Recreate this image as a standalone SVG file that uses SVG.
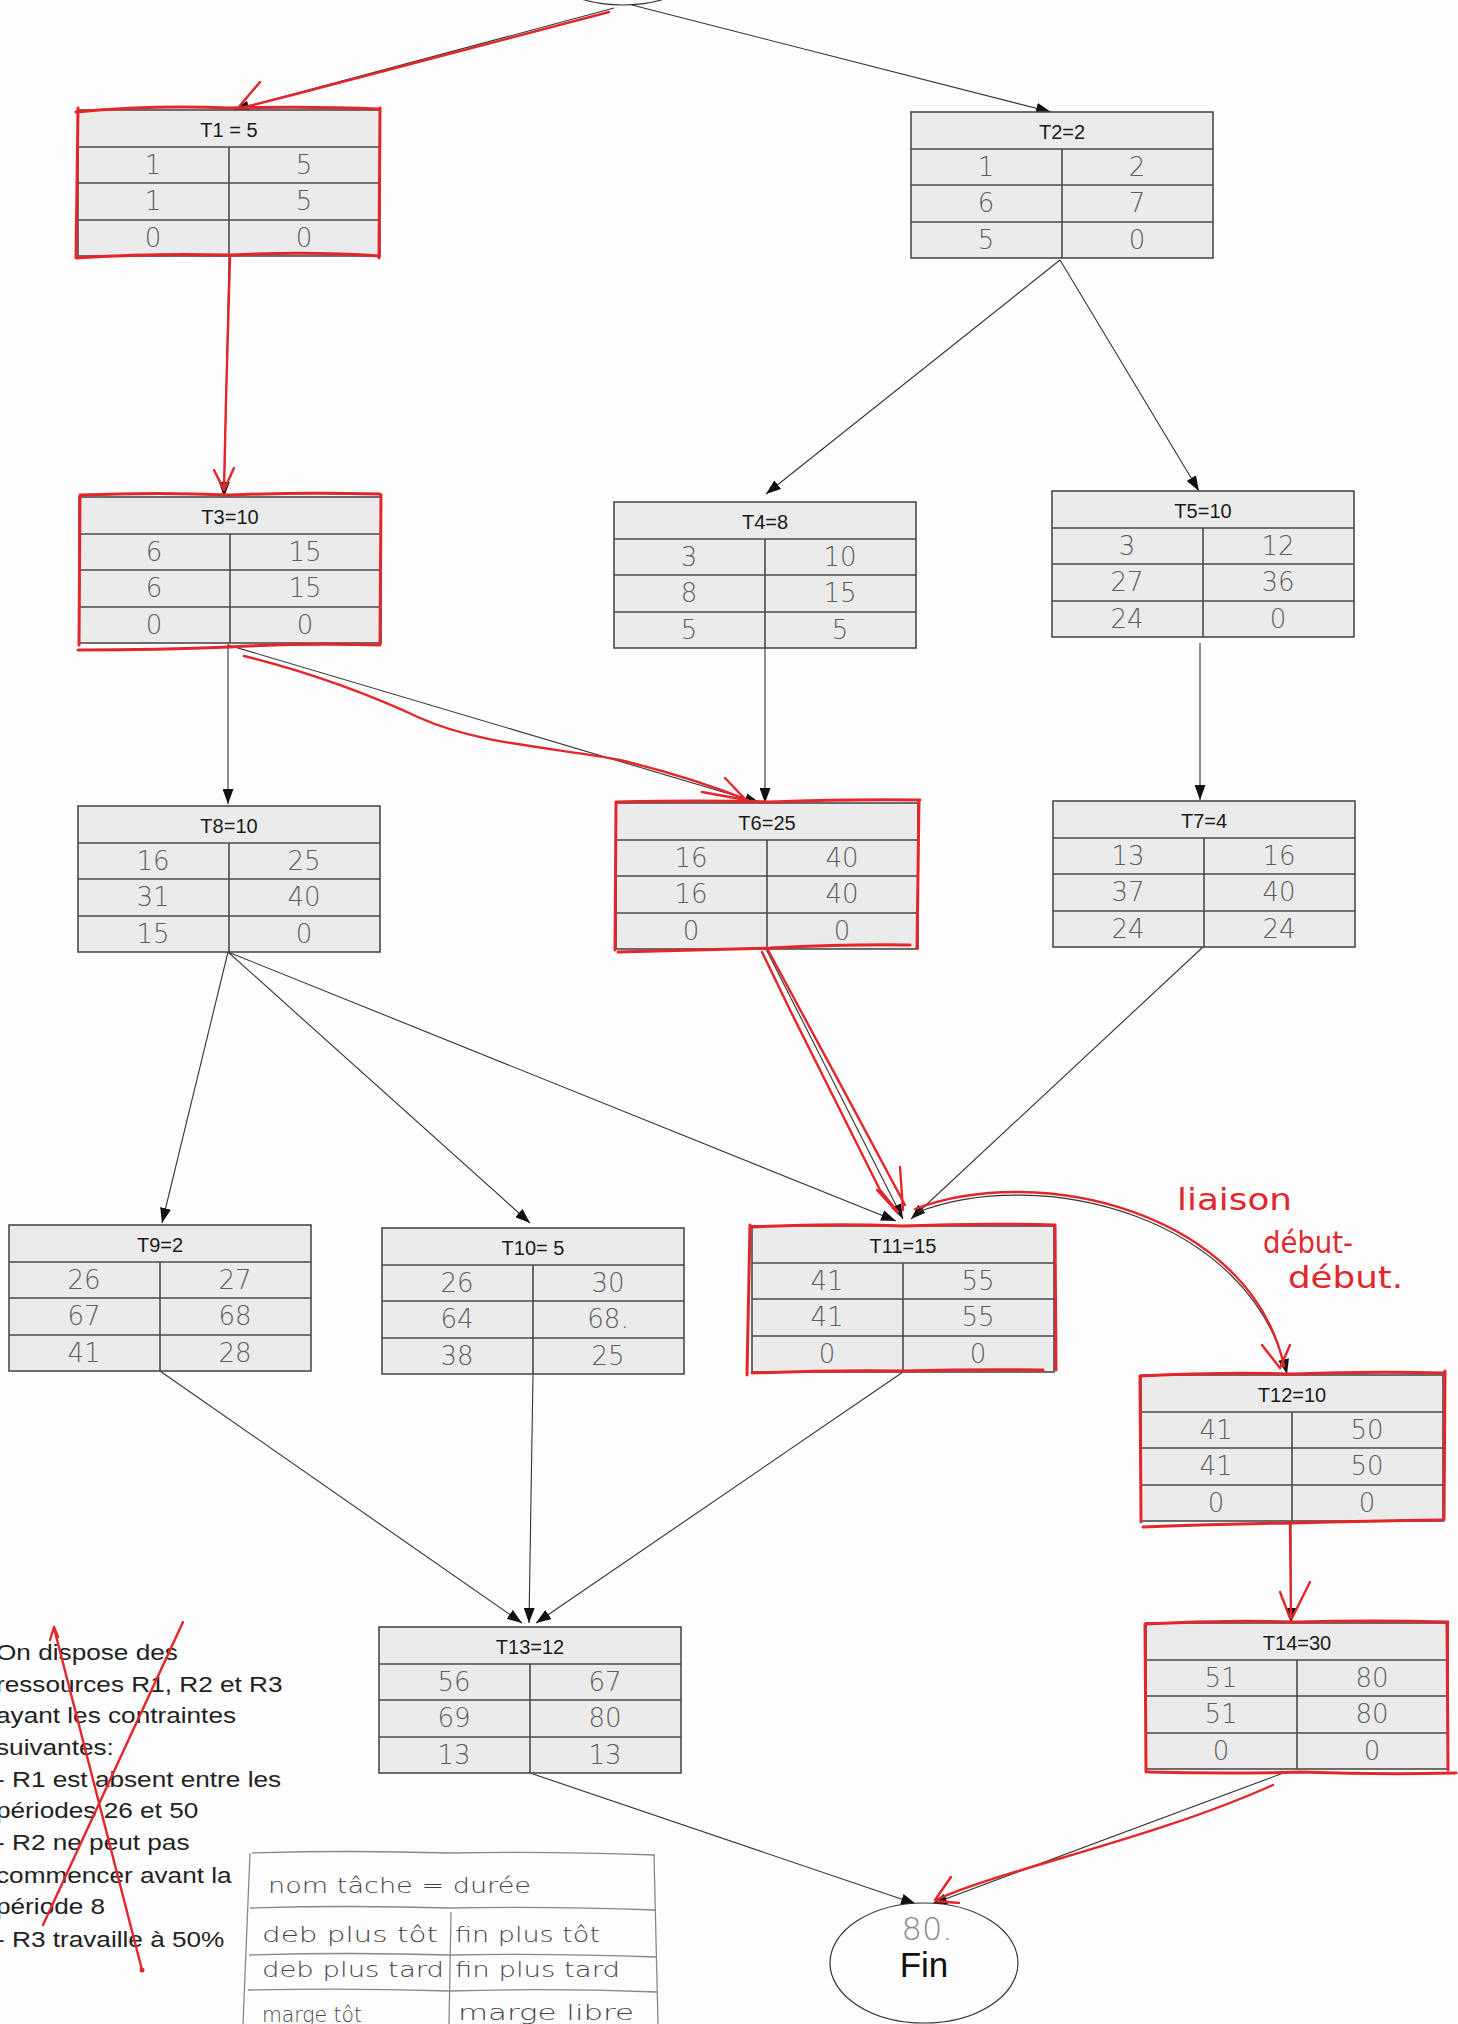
<svg xmlns="http://www.w3.org/2000/svg" xmlns:xlink="http://www.w3.org/1999/xlink" width="1458" height="2024" viewBox="0 0 1458 2024">
<style>
.box{fill:#ebebeb;stroke:#4a4a4a;stroke-width:1.6}
.grid{fill:none;stroke:#4a4a4a;stroke-width:1.6}
.hdr{font-family:"Liberation Sans",Arial,sans-serif;font-size:20px;fill:#1a1a1a;text-anchor:middle}
.hw{font-family:"DejaVu Sans",sans-serif;font-size:26px;font-weight:200;fill:#5e5e5e;text-anchor:middle}
.edge{stroke:#333;stroke-width:1.1;fill:none}
.red{stroke:#e3262b;stroke-width:2.4;fill:none;stroke-linecap:round;stroke-linejoin:round}
.crit{stroke:#e3262b;stroke-width:3;fill:none;stroke-linecap:round;stroke-linejoin:round}
.note{font-family:"Liberation Sans",Arial,sans-serif;font-size:22px;fill:#222}
.leg{font-family:"DejaVu Sans",sans-serif;font-size:22px;font-weight:200;fill:#444}
.legl{stroke:#888;stroke-width:1.3;fill:none}
.redtxt{font-family:"DejaVu Sans",sans-serif;font-size:30px;fill:#e3262b}
</style>
<defs>
<marker id="arr" markerUnits="userSpaceOnUse" markerWidth="15" markerHeight="11" refX="15" refY="5.5" orient="auto">
<path d="M0,0 L15,5.5 L0,11 z" fill="#111"/>
</marker>
<g id="frame">
<rect x="0" y="0" width="302" height="146" class="box"/>
<path d="M0,37H302M0,73H302M0,110H302M151,37V146" class="grid"/>
</g>
</defs>
<rect width="1458" height="2024" fill="#fdfdfd"/>

<g id="connectors">
<path class="edge" d="M614,8 L234,110" marker-end="url(#arr)"/>
<path class="edge" d="M632,5 L1051,112" marker-end="url(#arr)"/>
<path class="edge" d="M229,257 L224,497" marker-end="url(#arr)"/>
<path class="edge" d="M1060,260 L766,494" marker-end="url(#arr)"/>
<path class="edge" d="M1060,260 L1199,491" marker-end="url(#arr)"/>
<path class="edge" d="M228,644 L228,804" marker-end="url(#arr)"/>
<path class="edge" d="M228,645 L760,803" marker-end="url(#arr)"/>
<path class="edge" d="M765,648 L765,803" marker-end="url(#arr)"/>
<path class="edge" d="M1200,643 L1200,800" marker-end="url(#arr)"/>
<path class="edge" d="M228,952 L162,1223" marker-end="url(#arr)"/>
<path class="edge" d="M228,952 L530,1223" marker-end="url(#arr)"/>
<path class="edge" d="M228,952 L896,1221" marker-end="url(#arr)"/>
<path class="edge" d="M766,949 L903,1219" marker-end="url(#arr)"/>
<path class="edge" d="M1203,947 L911,1219" marker-end="url(#arr)"/>
<path class="edge" d="M918,1212 C1040,1165 1250,1215 1287,1374" marker-end="url(#arr)"/>
<path class="edge" d="M1291,1521 L1291,1623" marker-end="url(#arr)"/>
<path class="edge" d="M160,1371 L522,1623" marker-end="url(#arr)"/>
<path class="edge" d="M533,1374 L529,1623" marker-end="url(#arr)"/>
<path class="edge" d="M903,1372 L536,1623" marker-end="url(#arr)"/>
<path class="edge" d="M530,1773 L916,1904" marker-end="url(#arr)"/>
<path class="edge" d="M1286,1772 L932,1904" marker-end="url(#arr)"/>
</g>

<g id="start"><ellipse cx="623" cy="-55" rx="94" ry="60" fill="#fdfdfd" stroke="#333" stroke-width="1.2"/></g>

<g id="T1"><use xlink:href="#frame" x="78" y="110"/><text class="hdr" x="229" y="137">T1 = 5</text>
<text class="hw" x="153" y="174">1</text><text class="hw" x="304" y="174">5</text>
<text class="hw" x="153" y="210">1</text><text class="hw" x="304" y="210">5</text>
<text class="hw" x="153" y="247" font-size="20">0</text><text class="hw" x="304" y="247" font-size="20">0</text></g>

<g id="T2"><use xlink:href="#frame" x="911" y="112"/><text class="hdr" x="1062" y="139">T2=2</text>
<text class="hw" x="986" y="176">1</text><text class="hw" x="1137" y="176">2</text>
<text class="hw" x="986" y="212">6</text><text class="hw" x="1137" y="212">7</text>
<text class="hw" x="986" y="249">5</text><text class="hw" x="1137" y="249">0</text></g>

<g id="T3"><use xlink:href="#frame" x="79" y="497"/><text class="hdr" x="230" y="524">T3=10</text>
<text class="hw" x="154" y="561">6</text><text class="hw" x="305" y="561">15</text>
<text class="hw" x="154" y="597">6</text><text class="hw" x="305" y="597">15</text>
<text class="hw" x="154" y="634">0</text><text class="hw" x="305" y="634">0</text></g>

<g id="T4"><use xlink:href="#frame" x="614" y="502"/><text class="hdr" x="765" y="529">T4=8</text>
<text class="hw" x="689" y="566">3</text><text class="hw" x="840" y="566">10</text>
<text class="hw" x="689" y="602">8</text><text class="hw" x="840" y="602">15</text>
<text class="hw" x="689" y="639">5</text><text class="hw" x="840" y="639">5</text></g>

<g id="T5"><use xlink:href="#frame" x="1052" y="491"/><text class="hdr" x="1203" y="518">T5=10</text>
<text class="hw" x="1127" y="555">3</text><text class="hw" x="1278" y="555">12</text>
<text class="hw" x="1127" y="591">27</text><text class="hw" x="1278" y="591">36</text>
<text class="hw" x="1127" y="628">24</text><text class="hw" x="1278" y="628">0</text></g>

<g id="T6"><use xlink:href="#frame" x="616" y="803"/><text class="hdr" x="767" y="830">T6=25</text>
<text class="hw" x="691" y="867">16</text><text class="hw" x="842" y="867">40</text>
<text class="hw" x="691" y="903">16</text><text class="hw" x="842" y="903">40</text>
<text class="hw" x="691" y="940">0</text><text class="hw" x="842" y="940">0</text></g>

<g id="T7"><use xlink:href="#frame" x="1053" y="801"/><text class="hdr" x="1204" y="828">T7=4</text>
<text class="hw" x="1128" y="865">13</text><text class="hw" x="1279" y="865">16</text>
<text class="hw" x="1128" y="901">37</text><text class="hw" x="1279" y="901">40</text>
<text class="hw" x="1128" y="938">24</text><text class="hw" x="1279" y="938">24</text></g>

<g id="T8"><use xlink:href="#frame" x="78" y="806"/><text class="hdr" x="229" y="833">T8=10</text>
<text class="hw" x="153" y="870">16</text><text class="hw" x="304" y="870">25</text>
<text class="hw" x="153" y="906">31</text><text class="hw" x="304" y="906">40</text>
<text class="hw" x="153" y="943">15</text><text class="hw" x="304" y="943">0</text></g>

<g id="T9"><use xlink:href="#frame" x="9" y="1225"/><text class="hdr" x="160" y="1252">T9=2</text>
<text class="hw" x="84" y="1289">26</text><text class="hw" x="235" y="1289">27</text>
<text class="hw" x="84" y="1325">67</text><text class="hw" x="235" y="1325">68</text>
<text class="hw" x="84" y="1362">41</text><text class="hw" x="235" y="1362">28</text></g>

<g id="T10"><use xlink:href="#frame" x="382" y="1228"/><text class="hdr" x="533" y="1255">T10= 5</text>
<text class="hw" x="457" y="1292">26</text><text class="hw" x="608" y="1292">30</text>
<text class="hw" x="457" y="1328">64</text><text class="hw" x="608" y="1328">68.</text>
<text class="hw" x="457" y="1365">38</text><text class="hw" x="608" y="1365">25</text></g>

<g id="T11"><use xlink:href="#frame" x="752" y="1226"/><text class="hdr" x="903" y="1253">T11=15</text>
<text class="hw" x="827" y="1290">41</text><text class="hw" x="978" y="1290">55</text>
<text class="hw" x="827" y="1326">41</text><text class="hw" x="978" y="1326">55</text>
<text class="hw" x="827" y="1363">0</text><text class="hw" x="978" y="1363">0</text></g>

<g id="T12"><use xlink:href="#frame" x="1141" y="1375"/><text class="hdr" x="1292" y="1402">T12=10</text>
<text class="hw" x="1216" y="1439">41</text><text class="hw" x="1367" y="1439">50</text>
<text class="hw" x="1216" y="1475">41</text><text class="hw" x="1367" y="1475">50</text>
<text class="hw" x="1216" y="1512">0</text><text class="hw" x="1367" y="1512" font-size="18">0</text></g>

<g id="T13"><use xlink:href="#frame" x="379" y="1627"/><text class="hdr" x="530" y="1654">T13=12</text>
<text class="hw" x="454" y="1691">56</text><text class="hw" x="605" y="1691">67</text>
<text class="hw" x="454" y="1727">69</text><text class="hw" x="605" y="1727">80</text>
<text class="hw" x="454" y="1764">13</text><text class="hw" x="605" y="1764">13</text></g>

<g id="T14"><use xlink:href="#frame" x="1146" y="1623"/><text class="hdr" x="1297" y="1650">T14=30</text>
<text class="hw" x="1221" y="1687">51</text><text class="hw" x="1372" y="1687">80</text>
<text class="hw" x="1221" y="1723">51</text><text class="hw" x="1372" y="1723">80</text>
<text class="hw" x="1221" y="1760">0</text><text class="hw" x="1372" y="1760" font-size="20">0</text></g>

<g id="fin"><ellipse cx="924" cy="1963" rx="94" ry="60" fill="#fdfdfd" stroke="#333" stroke-width="1.2"/>
<text x="927" y="1940" font-family="DejaVu Sans, sans-serif" font-size="32" font-weight="200" fill="#8a8a8a" text-anchor="middle">80.</text>
<text x="924" y="1977" font-family="Liberation Sans, Arial, sans-serif" font-size="35" fill="#111" text-anchor="middle">Fin</text></g>

<g id="critical-path">
<path class="crit" d="M76,112 Q150,105 230,108 Q310,106 379,109 M78,108 L76,258 M380,108 L379,258 M76,258 Q150,253 230,255 Q310,251 379,256"/>
<path class="crit" d="M80,495 Q160,492 230,495 Q300,492 380,494 M80,495 L79,645 M381,495 L380,645 M78,650 Q160,650 230,647 Q300,643 380,645"/>
<path class="crit" d="M616,802 Q700,800 770,802 Q850,799 920,800 M616,802 L615,950 M919,800 L917,948 M618,952 Q700,950 770,948 Q850,944 910,945"/>
<path class="crit" d="M752,1227 Q830,1223 903,1226 Q980,1223 1055,1225 M750,1225 L747,1375 M1055,1225 L1056,1370 M752,1373 Q830,1370 903,1371 Q980,1369 1043,1370"/>
<path class="crit" d="M1141,1376 Q1220,1372 1292,1374 Q1370,1371 1444,1373 M1140,1376 L1141,1522 M1445,1371 L1444,1520 M1143,1527 Q1220,1524 1292,1523 Q1370,1521 1441,1520"/>
<path class="crit" d="M1145,1624 Q1220,1620 1297,1622 Q1370,1620 1448,1622 M1145,1624 L1146,1772 M1447,1622 L1448,1770 M1148,1772 Q1230,1774 1300,1772 Q1380,1775 1456,1773"/>
<path class="red" d="M609,12 L300,93 L245,107 M260,82 L238,108"/>
<path class="red" d="M230,258 L226,400 L224,490 M214,470 L224,490 L234,468"/>
<path class="red" d="M244,656 C300,670 360,690 420,718 C480,745 560,748 620,760 C670,772 710,785 748,800 M725,778 L746,800 M702,792 L746,800"/>
<path class="red" d="M762,952 L790,1010 L880,1190 L898,1212 M768,950 C800,1010 860,1120 905,1205 M900,1167 L903,1210 M877,1190 L897,1212"/>
<path class="red" d="M915,1209 C1040,1162 1250,1212 1284,1366 M1262,1345 L1280,1368 L1290,1345"/>
<path class="red" d="M1290,1523 L1291,1618 M1310,1582 L1292,1618 M1280,1592 L1290,1618"/>
<path class="red" d="M1273,1785 C1150,1840 1000,1870 936,1900 M951,1877 L935,1900 M959,1903 L936,1901"/>
<text class="redtxt" x="1177" y="1210" textLength="115" lengthAdjust="spacingAndGlyphs">liaison</text>
<text class="redtxt" x="1263" y="1253" textLength="90" lengthAdjust="spacingAndGlyphs">début-</text>
<text class="redtxt" x="1288" y="1288" textLength="115" lengthAdjust="spacingAndGlyphs">début.</text>
</g>

<g id="note">
<g transform="translate(-4,0) scale(1.19,1)">
<text class="note" x="0" y="1660">On dispose des</text>
<text class="note" x="0" y="1692">ressources R1, R2 et R3</text>
<text class="note" x="0" y="1723">ayant les contraintes</text>
<text class="note" x="0" y="1755">suivantes:</text>
<text class="note" x="0" y="1787">- R1 est absent entre les</text>
<text class="note" x="0" y="1818">périodes 26 et 50</text>
<text class="note" x="0" y="1850">- R2 ne peut pas</text>
<text class="note" x="0" y="1883">commencer avant la</text>
<text class="note" x="0" y="1914">période 8</text>
<text class="note" x="0" y="1947">- R3 travaille à 50%</text>
</g>
<path class="red" d="M54,1628 L142,1970 M50,1640 L54,1627 L58,1637 M183,1622 L43,1925" stroke-width="2"/>
<circle cx="142" cy="1970" r="2.5" fill="#e3262b"/>
</g>

<g id="legend">
<path class="legl" d="M252,1853 Q350,1850 450,1853 Q550,1851 655,1855 M250,1853 L243,2024 M654,1855 L658,2024 M250,1908 Q350,1905 450,1908 Q550,1906 655,1910 M249,1955 Q350,1952 450,1955 Q550,1953 656,1957 M248,1990 Q350,1988 450,1991 Q550,1988 657,1992 M451,1912 L449,2024"/>
<text class="leg" x="268" y="1893" font-size="26" textLength="263" lengthAdjust="spacingAndGlyphs">nom tâche = durée</text>
<text class="leg" x="262" y="1942" textLength="176" lengthAdjust="spacingAndGlyphs">deb plus tôt</text>
<text class="leg" x="455" y="1942" textLength="145" lengthAdjust="spacingAndGlyphs">fin plus tôt</text>
<text class="leg" x="262" y="1977" textLength="182" lengthAdjust="spacingAndGlyphs">deb plus tard</text>
<text class="leg" x="455" y="1977" textLength="165" lengthAdjust="spacingAndGlyphs">fin plus tard</text>
<text class="leg" x="262" y="2022" textLength="100" lengthAdjust="spacingAndGlyphs">marge tôt</text>
<text class="leg" x="458" y="2020" textLength="176" lengthAdjust="spacingAndGlyphs">marge libre</text>
</g>
</svg>
